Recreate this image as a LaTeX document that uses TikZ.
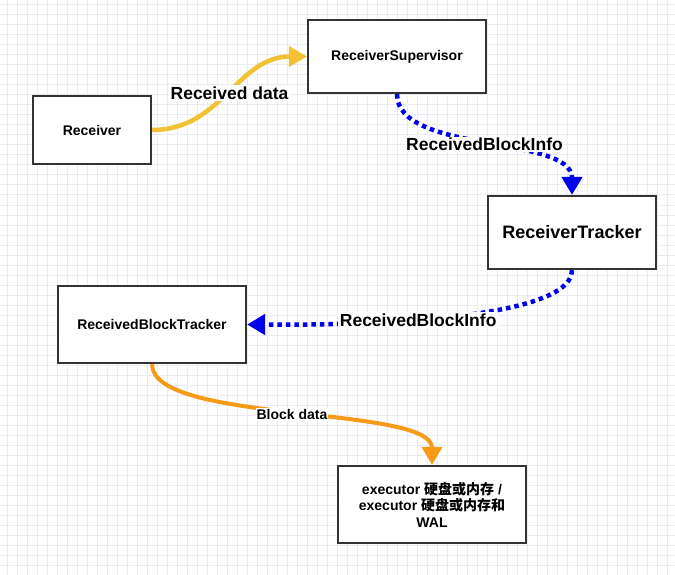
\documentclass[tikz,border=0pt]{standalone}
\usepackage{fontspec}
\setmainfont{Liberation Sans}
\newfontfamily\cjk{Noto Sans CJK SC}
\usetikzlibrary{arrows.meta}

\definecolor{gridcol}{RGB}{235,235,245}
\definecolor{boxline}{RGB}{51,51,51}
\definecolor{dataline}{RGB}{240,194,52}
\definecolor{infoline}{RGB}{0,0,240}
\definecolor{blockline}{RGB}{247,155,22}

\begin{document}
\begin{tikzpicture}[x=1pt, y=-1pt,
  box/.style={draw=boxline, line width=2.2pt, fill=white, align=center,
    font=\bfseries\fontsize{14}{16.5}\selectfont},
  bigbox/.style={box, font=\bfseries\fontsize{18}{21}\selectfont},
  edgelabel/.style={fill=white, inner sep=1.5pt, font=\bfseries\fontsize{17.5}{20}\selectfont},
  smalllabel/.style={fill=white, inner sep=1pt, font=\bfseries\fontsize{14}{16}\selectfont},
  tip/.style={-{Triangle[length=18pt, width=20pt]}}]

  % Background grid
  \useasboundingbox (0,0) rectangle (675,575);
  \fill[white] (0,0) rectangle (675,575);
  \foreach \x in {7,17,...,667}
    \draw[gridcol, line width=1pt] (\x,0) -- (\x,575);
  \foreach \y in {5,15,...,575}
    \draw[gridcol, line width=1pt] (0,\y) -- (675,\y);

  % Boxes
  \node[box, minimum width=118, minimum height=68] (recv) at (92,130) {Receiver};
  \node[box, minimum width=178, minimum height=73] (sup) at (397,56.5) {ReceiverSupervisor};
  \node[bigbox, minimum width=168, minimum height=73] (trk) at (572,232.5) {ReceiverTracker};
  \node[box, minimum width=188, minimum height=77] (rbt) at (152,324.5) {ReceivedBlockTracker};
  \node[box, minimum width=188, minimum height=77] (exe) at (432,504.5)
    {executor {\cjk 硬盘或内存} /\\executor {\cjk 硬盘或内存和}\\WAL};

  % Received data (yellow)
  \draw[dataline, line width=4.5pt, tip] (recv.east) .. controls +(70,0) and +(-70,0) .. (sup.west)
    node[edgelabel, pos=0.5, text=black] (datalbl) {Received data};

  % ReceivedBlockInfo (blue, dotted)
  \draw[infoline, line width=4.5pt, dash pattern=on 4.5pt off 4pt, tip]
    (sup.south) .. controls +(0,60) and +(0,-60) .. (trk.north)
    node[edgelabel, pos=0.5, text=black] (infolbl1) {ReceivedBlockInfo};
  \draw[infoline, line width=4.5pt, dash pattern=on 4.5pt off 4pt, tip]
    (trk.south) .. controls +(0,60) and +(23,0) .. (rbt.east)
    node[edgelabel, pos=0.5, text=black] (infolbl2) {ReceivedBlockInfo};

  % Block data (orange)
  \draw[blockline, line width=4pt, tip] (rbt.south) .. controls +(0,60) and +(0,-60) .. (exe.north)
    node[smalllabel, pos=0.5, text=black] (blocklbl) {Block data};
\end{tikzpicture}
\end{document}
